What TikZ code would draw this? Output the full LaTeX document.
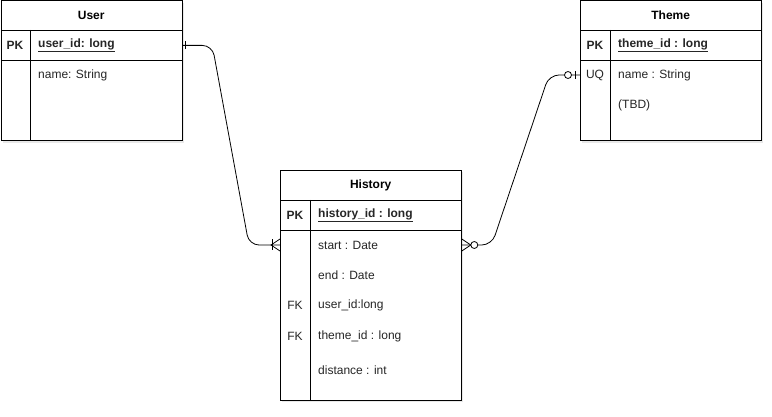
\documentclass[tikz,border=0pt]{standalone}
\usepackage{fontspec}
\setmainfont{Liberation Sans}
\usetikzlibrary{calc,shadows}

\begin{document}
\fontsize{12}{14}\selectfont
\begin{tikzpicture}[x=1pt, y=-1pt,
  frame/.style={draw, fill=white, line width=0.8pt, anchor=north west, minimum width=181pt, inner sep=0pt,
    drop shadow={shadow xshift=2pt, shadow yshift=-2pt, opacity=0.18, fill=gray}},
  ttl/.style={anchor=north west, minimum width=181pt, minimum height=30pt, inner sep=0pt, font=\bfseries},
  keyrow/.style={draw, line width=0.8pt, anchor=north west, minimum width=181pt, minimum height=30pt, inner sep=0pt},
  key/.style={inner sep=0pt, text=black!85},
  fld/.style={anchor=west, inner sep=0pt, text=black!85},
  pkfld/.style={fld, font=\bfseries},
  rel/.style={line width=0.8pt, rounded corners=10pt},
  erend/.style={line width=0.8pt}
]
  \useasboundingbox (0,0) rectangle (772,417);

  % User
  \node[frame, minimum height=140pt] (user) at (0.5,0.5) {};
  \node[ttl] (userttl) at (0.5,0.5) {User};
  \node[keyrow] (userpk) at (0.5,30) {};
  \draw[line width=0.8pt] (30,30) -- (30,140.5);
  \node[key, font=\bfseries] at (15,45) {PK};
  \node[pkfld] (uid) at (38,45) {\underline{user\_id: long}};
  \node[fld] (uname) at (38,75) {name: String};

  % Theme
  \node[frame, minimum height=140pt] (theme) at (580,0.5) {};
  \node[ttl] (themettl) at (580,0.5) {Theme};
  \node[keyrow] (themepk) at (580,30) {};
  \draw[line width=0.8pt] (610,30) -- (610,140.5);
  \node[key, font=\bfseries] at (595,45) {PK};
  \node[pkfld] (tid) at (618,45) {\underline{theme\_id : long}};
  \node[key] at (595,75) {UQ};
  \node[fld] (tname) at (618,75) {name : String};
  \node[fld] (ttbd) at (618,105) {(TBD)};

  % History
  \node[frame, minimum height=230pt] (hist) at (280,170) {};
  \node[ttl] (histttl) at (280,170) {History};
  \node[keyrow] (histpk) at (280,200) {};
  \draw[line width=0.8pt] (310,200) -- (310,400);
  \node[key, font=\bfseries] at (295,215) {PK};
  \node[pkfld] (hid) at (318,215) {\underline{history\_id : long}};
  \node[fld] (hstart) at (318,245) {start : Date};
  \node[fld] (hend) at (318,275) {end : Date};
  \node[key] at (295,305) {FK};
  \node[fld] (huser) at (318,305) {user\_id:long};
  \node[key] at (295,336) {FK};
  \node[fld] (htheme) at (318,336) {theme\_id : long};
  \node[fld] (hdist) at (318,370) {distance : int};

  % relations
  \draw[rel] (userpk.east) -- ++(30,0) -- ($(hstart -| hist.west)+(-31,0)$) -- (hstart -| hist.west);
  \draw[rel] (hstart -| hist.east) -- ++(30,0) -- ($(tname -| theme.west)+(-31,0)$) -- (tname -| theme.west);

  % ends: one / one-or-many
  \draw[erend] ($(userpk.east)+(3.5,-4)$) -- ++(0,8);
  \draw[erend] ($(hstart -| hist.west)+(-7.5,-5.5)$) -- ++(0,11);
  \draw[erend] ($(hstart -| hist.west)+(0,-6)$) -- ++(-9,6) -- ++(9,6);
  % ends: zero-or-many / zero-or-one
  \draw[erend] ($(hstart -| hist.east)+(0,-6)$) -- ++(9,6) -- ++(-9,6);
  \draw[erend, fill=white] ($(hstart -| hist.east)+(12.5,0)$) circle (3.5);
  \draw[erend, fill=white] ($(tname -| theme.west)+(-12,0)$) circle (3.5);
  \draw[erend] ($(tname -| theme.west)+(-4.5,-4)$) -- ++(0,8);
\end{tikzpicture}
\end{document}
